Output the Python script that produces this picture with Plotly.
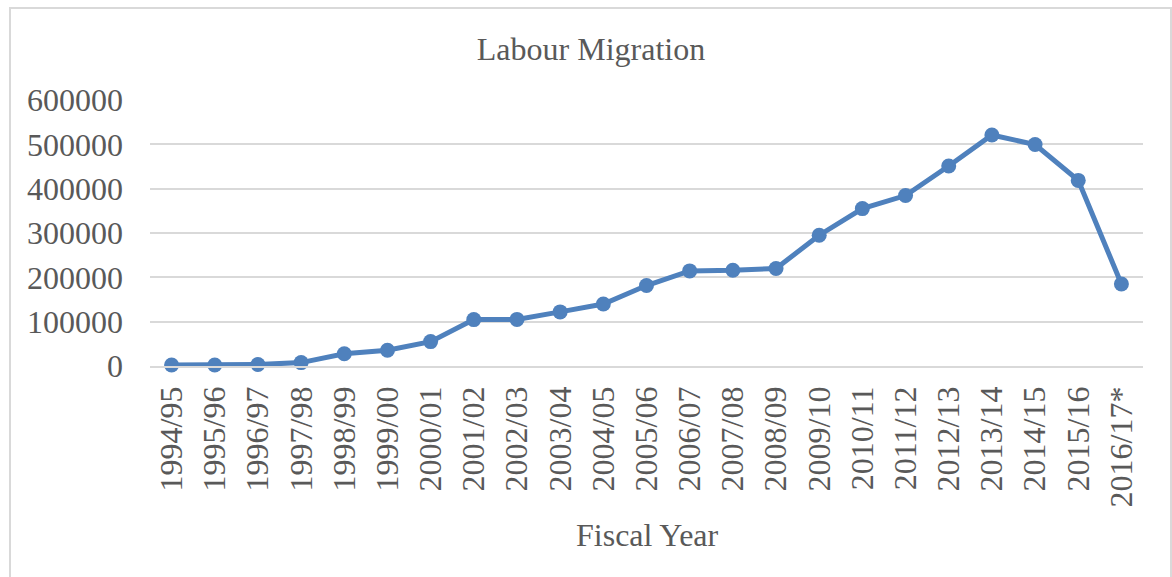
import plotly.graph_objects as go

fiscal_years = ["1994/95", "1995/96", "1996/97", "1997/98", "1998/99", "1999/00",
                "2000/01", "2001/02", "2002/03", "2003/04", "2004/05", "2005/06",
                "2006/07", "2007/08", "2008/09", "2009/10", "2010/11", "2011/12",
                "2012/13", "2013/14", "2014/15", "2015/16", "2016/17*"]
migrants = [2200, 2100, 3300, 7700, 27800, 35500, 55000, 104700, 105100, 122000,
            139700, 181500, 214500, 216000, 219800, 295000, 355000, 384500,
            451000, 521000, 499500, 418700, 185000]
y_ticks = [0, 100000, 200000, 300000, 400000, 500000, 600000]

W, H = 1172, 577
L, R, T, B = 150, 29, 100, 211
pw, ph = W - L - R, H - T - B

def px_to_paper_x(x):
    return (x - L) / pw

def px_to_paper_y(y):
    return (H - B - y) / ph

font_family = "Liberation Serif, Times New Roman, serif"
txt_color = "#595959"
grid_color = "#d9d9d9"

fig = go.Figure()
fig.add_trace(go.Scatter(
    x=fiscal_years, y=migrants, mode="lines+markers",
    line=dict(color="#4f81bd", width=5),
    marker=dict(color="#4f81bd", size=15),
    cliponaxis=False, showlegend=False,
))

fig.update_layout(
    width=W, height=H,
    margin=dict(l=L, r=R, t=T, b=B, pad=0),
    paper_bgcolor="white", plot_bgcolor="white",
    font=dict(family=font_family, color=txt_color, size=32),
    title=dict(text="Labour Migration", x=591 / W, xref="container", xanchor="center",
               y=1 - 49 / H, yref="container", yanchor="middle",
               font=dict(family=font_family, size=32, color=txt_color)),
    xaxis=dict(type="category", range=[-0.5, len(fiscal_years) - 0.5],
               tickangle=-90, showgrid=False, zeroline=False,
               showline=True, linecolor=grid_color, linewidth=1.5, ticks="",
               ticklabelstandoff=6, tickfont=dict(size=32, color=txt_color)),
    yaxis=dict(range=[0, 600000], tickvals=y_ticks, ticktext=[str(v) for v in y_ticks],
               showgrid=True, gridcolor=grid_color, gridwidth=1.5, zeroline=False,
               showline=False, ticks="", ticklabelstandoff=26,
               tickfont=dict(size=32, color=txt_color)),
    annotations=[dict(text="Fiscal Year", xref="paper", yref="paper",
                      x=px_to_paper_x(647), y=px_to_paper_y(535),
                      xanchor="center", yanchor="middle", showarrow=False,
                      font=dict(family=font_family, size=32, color=txt_color))],
    shapes=[dict(type="rect", xref="paper", yref="paper",
                 x0=px_to_paper_x(10), x1=px_to_paper_x(1171),
                 y0=px_to_paper_y(590), y1=px_to_paper_y(8),
                 line=dict(color=grid_color, width=2), layer="below")],
)

fig.write_html("out.html")
